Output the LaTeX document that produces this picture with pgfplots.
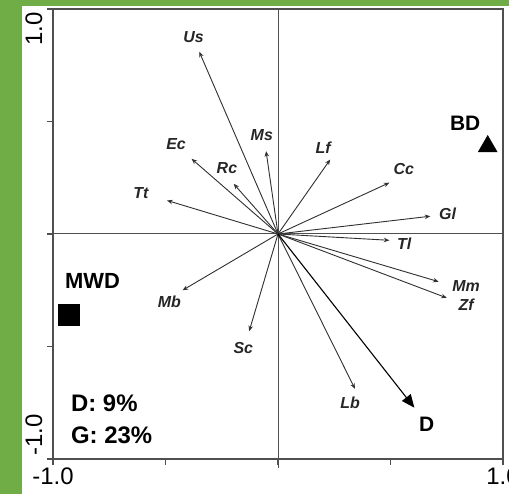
\documentclass[border=0pt]{standalone}
\usepackage{pgfplots}
\pgfplotsset{compat=1.18}
\usepackage{pgfplotstable}
\usetikzlibrary{arrows.meta}
\usepackage{fontspec}
\setmainfont{Liberation Sans}
\definecolor{frame}{HTML}{70AD47}
\definecolor{axgray}{HTML}{505050}
\definecolor{argray}{HTML}{303030}

\pgfplotstableread{
x y u v lx ly name
0 0 -0.350  0.810 -0.375  0.876 Us
0 0 -0.053  0.368 -0.072  0.438 Ms
0 0 -0.384  0.334 -0.453  0.401 Ec
0 0 -0.197  0.223 -0.227  0.291 Rc
0 0 -0.493  0.149 -0.609  0.180 Tt
0 0  0.232  0.331  0.201  0.383 Lf
0 0  0.495  0.228  0.559  0.290 Cc
0 0  0.677  0.079  0.754  0.090 Gl
0 0  0.495 -0.028  0.561 -0.044 Tl
0 0  0.714 -0.212  0.836 -0.229 Mm
0 0  0.750 -0.284  0.836 -0.313 Zf
0 0 -0.424 -0.250 -0.483 -0.303 Mb
0 0 -0.128 -0.432 -0.154 -0.506 Sc
0 0  0.342 -0.688  0.321 -0.750 Lb
}\loadings

\begin{document}
\begin{tikzpicture}[x=1bp,y=1bp]
\useasboundingbox (0,0) rectangle (509,494);
\fill[frame] (0,0) rectangle (509,494);
\fill[white] (22,0) rectangle (509,488);
\begin{axis}[
  at={(53bp,35bp)}, anchor=south west,
  width=450bp, height=450bp, scale only axis,
  xmin=-1, xmax=1, ymin=-1, ymax=1,
  xtick={-1,-0.5,0,0.5,1}, ytick={-1,-0.5,0,0.5,1},
  xticklabels={}, yticklabels={},
  tick pos=left, tick align=outside,
  major tick length=6bp,
  axis line style={axgray, line width=1.1bp},
  every tick/.style={axgray, line width=1.1bp},
  clip=false,
]
\addplot[axgray, line width=1bp, mark=none] coordinates {(-1,0) (1,0)};
\addplot[axgray, line width=1bp, mark=none] coordinates {(0,-1.04) (0,1)};

\addplot[argray, line width=0.9bp,
  quiver={u=\thisrow{u}, v=\thisrow{v}},
  -{Stealth[length=5.5bp,width=4.5bp]}] table[x=x,y=y] {\loadings};

\addplot[draw=none, mark=none, nodes near coords, point meta=explicit symbolic,
  every node near coord/.append style={anchor=center, text=black!85,
    font=\fontsize{16}{19}\selectfont\bfseries\itshape}]
  table[x=lx,y=ly,meta=name] {\loadings};

\addplot[black, line width=1.1bp, mark=none,
  -{Triangle[length=13bp,width=11bp]}] coordinates {(0,0) (0.606,-0.772)};

\addplot[only marks, mark=triangle*, mark size=11bp, black] coordinates {(0.932,0.389)};
\addplot[only marks, mark=square*, mark size=10.5bp, black] coordinates {(-0.932,-0.358)};

\node[font=\fontsize{21}{24}\selectfont\bfseries] at (axis cs:0.661,-0.844) {D};
\node[font=\fontsize{21}{24}\selectfont\bfseries] at (axis cs:0.832,0.494) {BD};
\node[font=\fontsize{22}{26}\selectfont\bfseries] at (axis cs:-0.824,-0.210) {MWD};
\node[font=\fontsize{24}{28}\selectfont\bfseries, anchor=west] at (axis cs:-0.935,-0.753) {D: 9\%};
\node[font=\fontsize{24}{28}\selectfont\bfseries, anchor=west] at (axis cs:-0.935,-0.896) {G: 23\%};

\node[font=\fontsize{24}{28}\selectfont, rotate=90, anchor=east] at ([xshift=-19bp]axis cs:-1,1) {1.0};
\node[font=\fontsize{24}{28}\selectfont, rotate=90, anchor=west] at ([xshift=-19bp]axis cs:-1,-1) {-1.0};
\node[font=\fontsize{24}{28}\selectfont, anchor=north] at ([yshift=-5bp]axis cs:-1,-1) {-1.0};
\node[font=\fontsize{24}{28}\selectfont, anchor=north] at ([yshift=-5bp]axis cs:1,-1) {1.0};
\end{axis}
\end{tikzpicture}
\end{document}
